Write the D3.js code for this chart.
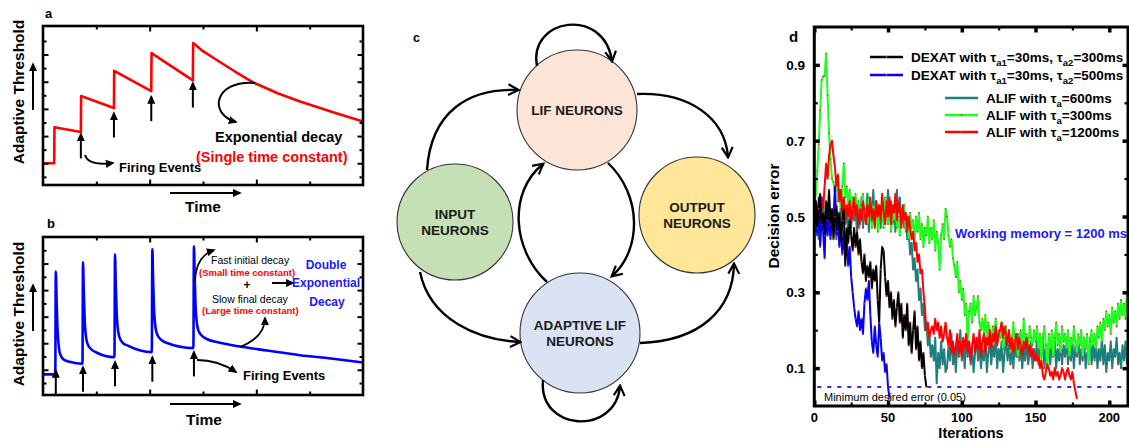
<!DOCTYPE html>
<html>
<head>
<meta charset="utf-8">
<script src="https://cdn.jsdelivr.net/npm/d3@7"></script>
<style>
  html, body { margin: 0; padding: 0; background: #fff; }
  svg { display: block; font-family: "Liberation Sans", Arial, Helvetica, sans-serif; }
</style>
</head>
<body>
<svg id="fig" width="1129" height="441"></svg>
<script>
// ---------------- data ----------------
// Panel a: single time-constant adaptive threshold, [time, threshold]
const singleExpTrace = [
  [0, 1.0], [0.21, 1.0], [0.215, 3.65], [0.71, 3.3], [0.715, 5.95], [1.33, 5.07],
  [1.335, 7.8], [2.03, 6.3], [2.035, 9.1], [2.81, 7.1], [2.815, 9.85], [3.0, 9.25],
  [3.26, 8.6], [3.6, 7.75], [3.94, 6.95], [4.4, 6.15], [4.82, 5.55], [5.44, 4.75], [6.0, 4.07]
];
const firingTimesA = [0.71, 1.33, 2.03, 2.81];
const arrowTipsA = [3.15, 4.7, 5.9, 6.9];

// Panel b: double-exponential adaptive threshold, [time, threshold]
const doubleExpTrace = [
  [0, 0.65], [0.23, 0.65],
  [0.24, 8.4], [0.255, 6.2], [0.27, 4.3], [0.29, 3.0], [0.32, 2.2], [0.38, 1.8], [0.5, 1.6], [0.74, 1.45],
  [0.75, 9.1], [0.765, 6.8], [0.78, 4.9], [0.80, 3.7], [0.83, 3.0], [0.89, 2.6], [1.0, 2.3], [1.34, 1.95],
  [1.35, 9.7], [1.365, 7.3], [1.38, 5.4], [1.40, 4.2], [1.43, 3.5], [1.49, 3.05], [1.6, 2.8], [2.04, 2.33],
  [2.05, 10.1], [2.065, 7.7], [2.08, 5.7], [2.10, 4.5], [2.13, 3.8], [2.19, 3.35], [2.3, 3.05], [2.82, 2.63],
  [2.83, 10.3], [2.845, 7.9], [2.86, 5.9], [2.88, 4.7], [2.91, 4.0], [2.97, 3.6], [3.08, 3.3],
  [3.3, 3.05], [3.69, 2.75], [4.2, 2.45], [4.82, 2.1], [5.4, 1.85], [6.0, 1.55]
];
const firingTimesB = [0.24, 0.75, 1.35, 2.05, 2.83];
const arrowTipsB = [0.95, 1.2, 1.6, 1.95, 2.35];

// Panel c: network nodes and connections
const nodeLabels = [["LIF NEURONS"], ["INPUT", "NEURONS"], ["OUTPUT", "NEURONS"], ["ADAPTIVE LIF", "NEURONS"]];
const nodeColors = ["#fce4d6", "#c5e0b4", "#ffe699", "#dae3f3"];
const links = [
  ["LIF", "LIF"], ["INPUT", "LIF"], ["INPUT", "ADAPTIVE"], ["LIF", "OUTPUT"],
  ["ADAPTIVE", "OUTPUT"], ["ADAPTIVE", "LIF"], ["LIF", "ADAPTIVE"], ["ADAPTIVE", "ADAPTIVE"]
];

// Panel d: decision error per training iteration
const dexat300 = [
  0.50,0.54,0.47,0.52,0.56,0.48,0.51,0.45,0.54,0.49,
  0.57,0.48,0.52,0.44,0.50,0.53,0.46,0.51,0.43,0.49,
  0.52,0.37,0.47,0.43,0.49,0.45,0.41,0.47,0.42,0.46,
  0.40,0.44,0.38,0.35,0.40,0.33,0.37,0.34,0.38,0.31,
  0.36,0.33,0.37,0.28,0.22,0.36,0.42,0.41,0.34,0.29,
  0.33,0.26,0.30,0.23,0.28,0.21,0.26,0.30,0.22,0.27,
  0.18,0.24,0.20,0.27,0.16,0.22,0.14,0.20,0.25,0.15,
  0.21,0.12,0.17,0.10,0.14,0.08,0.05
];
const dexat500 = [
  0.48,0.52,0.45,0.55,0.42,0.50,0.46,0.39,0.53,0.45,
  0.50,0.44,0.52,0.47,0.58,0.45,0.49,0.42,0.47,0.40,
  0.46,0.39,0.44,0.37,0.42,0.34,0.30,0.26,0.23,0.21,
  0.25,0.20,0.23,0.19,0.27,0.31,0.28,0.33,0.24,0.17,
  0.14,0.21,0.16,0.13,0.22,0.18,0.12,0.14,0.09,0.11,
  0.05,0.02
];
const alif600 = [
  0.50,0.46,0.53,0.44,0.51,0.48,0.55,0.43,0.50,0.47,
  0.54,0.45,0.52,0.49,0.56,0.44,0.51,0.47,0.53,0.46,
  0.55,0.48,0.52,0.45,0.50,0.47,0.54,0.49,0.51,0.46,
  0.53,0.48,0.55,0.47,0.52,0.50,0.56,0.46,0.53,0.49,
  0.57,0.48,0.54,0.50,0.52,0.47,0.55,0.49,0.53,0.51,
  0.57,0.50,0.54,0.48,0.52,0.46,0.57,0.51,0.55,0.48,
  0.52,0.47,0.50,0.44,0.46,0.40,0.43,0.36,0.39,0.33,
  0.36,0.28,0.31,0.24,0.27,0.20,0.22,0.16,0.19,0.13,
  0.16,0.12,0.18,0.06,0.14,0.10,0.17,0.11,0.15,0.09,
  0.10,0.16,0.12,0.19,0.11,0.14,0.09,0.17,0.13,0.20,
  0.12,0.16,0.10,0.19,0.13,0.17,0.11,0.15,0.09,0.14,
  0.18,0.12,0.16,0.10,0.15,0.12,0.18,0.09,0.14,0.17,
  0.11,0.16,0.13,0.19,0.10,0.15,0.12,0.17,0.09,0.14,
  0.18,0.12,0.16,0.11,0.15,0.10,0.17,0.13,0.19,0.12,
  0.16,0.10,0.15,0.12,0.18,0.11,0.14,0.17,0.10,0.15,
  0.12,0.18,0.11,0.16,0.13,0.19,0.10,0.15,0.12,0.17,
  0.11,0.16,0.13,0.18,0.10,0.15,0.12,0.17,0.11,0.16,
  0.13,0.18,0.11,0.15,0.12,0.17,0.10,0.16,0.13,0.18,
  0.11,0.15,0.12,0.17,0.10,0.14,0.13,0.18,0.11,0.16,
  0.12,0.17,0.10,0.15,0.12,0.18,0.11,0.16,0.09,0.14,
  0.12,0.17,0.10,0.15,0.13,0.18,0.11,0.14,0.10,0.16,
  0.12,0.17,0.11,0.13,0.10,0.14
];
const alif300 = [
  0.52,0.56,0.62,0.69,0.78,0.86,0.87,0.87,0.93,0.82,
  0.72,0.65,0.60,0.59,0.56,0.60,0.54,0.57,0.52,0.58,
  0.64,0.55,0.58,0.53,0.57,0.51,0.55,0.52,0.56,0.50,
  0.54,0.49,0.53,0.56,0.50,0.52,0.48,0.55,0.51,0.47,
  0.53,0.50,0.54,0.46,0.51,0.49,0.52,0.47,0.55,0.50,
  0.48,0.53,0.46,0.51,0.49,0.54,0.47,0.50,0.45,0.52,
  0.49,0.53,0.46,0.50,0.44,0.51,0.47,0.49,0.43,0.50,
  0.46,0.51,0.44,0.48,0.42,0.47,0.45,0.50,0.43,0.47,
  0.44,0.49,0.41,0.46,0.43,0.36,0.45,0.48,0.44,0.52,
  0.50,0.45,0.42,0.44,0.39,0.37,0.34,0.38,0.30,0.33,
  0.28,0.31,0.24,0.27,0.17,0.25,0.27,0.22,0.29,0.24,
  0.26,0.29,0.22,0.20,0.23,0.19,0.24,0.18,0.22,0.20,
  0.17,0.21,0.19,0.23,0.16,0.20,0.18,0.22,0.15,0.19,
  0.21,0.17,0.20,0.14,0.18,0.22,0.16,0.19,0.13,0.18,
  0.20,0.15,0.23,0.17,0.19,0.14,0.21,0.18,0.16,0.20,
  0.17,0.21,0.15,0.19,0.12,0.18,0.21,0.16,0.10,0.19,
  0.15,0.20,0.13,0.18,0.22,0.16,0.19,0.14,0.21,0.17,
  0.19,0.15,0.20,0.13,0.18,0.16,0.21,0.17,0.14,0.19,
  0.16,0.20,0.13,0.18,0.15,0.19,0.11,0.17,0.20,0.16,
  0.19,0.15,0.21,0.18,0.22,0.17,0.23,0.20,0.25,0.21,
  0.24,0.19,0.26,0.22,0.25,0.21,0.27,0.23,0.28,0.24,
  0.27,0.23,0.30,0.26,0.20,0.28
];
const alif1200 = [
  0.50,0.54,0.47,0.53,0.49,0.55,0.52,0.58,0.64,0.60,
  0.66,0.69,0.70,0.66,0.63,0.58,0.61,0.54,0.57,0.51,
  0.55,0.49,0.53,0.50,0.54,0.48,0.52,0.55,0.50,0.53,
  0.47,0.52,0.49,0.54,0.51,0.48,0.53,0.50,0.55,0.49,
  0.52,0.47,0.54,0.50,0.53,0.49,0.56,0.51,0.48,0.54,
  0.50,0.55,0.48,0.53,0.51,0.56,0.49,0.54,0.52,0.47,
  0.53,0.49,0.51,0.46,0.50,0.47,0.44,0.46,0.41,0.43,
  0.38,0.40,0.35,0.36,0.30,0.26,0.20,0.22,0.18,0.20,
  0.21,0.19,0.23,0.20,0.22,0.18,0.21,0.17,0.19,0.22,
  0.18,0.16,0.20,0.14,0.17,0.13,0.16,0.19,0.14,0.17,
  0.13,0.18,0.15,0.19,0.14,0.17,0.12,0.16,0.19,0.14,
  0.18,0.15,0.20,0.13,0.17,0.19,0.14,0.18,0.16,0.20,
  0.15,0.19,0.17,0.21,0.16,0.19,0.20,0.22,0.18,0.21,
  0.19,0.16,0.20,0.15,0.18,0.14,0.17,0.19,0.15,0.18,
  0.16,0.13,0.17,0.15,0.18,0.14,0.16,0.13,0.15,0.12,
  0.14,0.12,0.13,0.10,0.12,0.08,0.07,0.09,0.11,0.10,
  0.08,0.09,0.07,0.10,0.08,0.09,0.07,0.08,0.10,0.09,
  0.07,0.09,0.10,0.08,0.07,0.09,0.06,0.04,0.02
];
const minDesiredError = 0.05;
const dTicksX = [0, 50, 100, 150, 200];
const dTicksY = [0.1, 0.3, 0.5, 0.7, 0.9];

// ---------------- helpers ----------------
const svg = d3.select("#fig");
const defs = svg.append("defs");

defs.append("marker").attr("id", "solidHead")
  .attr("viewBox", "0 0 10 10").attr("refX", 8).attr("refY", 5)
  .attr("markerUnits", "userSpaceOnUse").attr("markerWidth", 9).attr("markerHeight", 9)
  .attr("orient", "auto")
  .append("path").attr("d", "M0,0.5 L10,5 L0,9.5 Z").attr("fill", "#000");

defs.append("marker").attr("id", "openHead")
  .attr("viewBox", "0 0 12 12").attr("refX", 10).attr("refY", 6)
  .attr("markerUnits", "userSpaceOnUse").attr("markerWidth", 13).attr("markerHeight", 13)
  .attr("orient", "auto")
  .append("path").attr("d", "M1,1 L10.5,6 L1,11").attr("fill", "none")
  .attr("stroke", "#000").attr("stroke-width", 2).attr("stroke-linejoin", "miter");

function sideTicks(g, x, y, xVals, yVals, len, width) {
  const [x0, x1] = x.range();
  const [y0, y1] = y.range();
  const sides = [
    [d3.axisBottom(x).tickValues(xVals), `translate(0,${y0})`],
    [d3.axisTop(x).tickValues(xVals), `translate(0,${y1})`],
    [d3.axisLeft(y).tickValues(yVals), `translate(${x0},0)`],
    [d3.axisRight(y).tickValues(yVals), `translate(${x1},0)`]
  ];
  sides.forEach(([ax, tr]) => {
    const a = g.append("g").attr("transform", tr)
      .call(ax.tickSize(-len).tickFormat(""));
    a.select(".domain").remove();
    a.selectAll(".tick line").attr("stroke", "#000").attr("stroke-width", width);
  });
}

function frame(g, x, y, w) {
  const [x0, x1] = x.range();
  const [y0, y1] = y.range();
  g.append("rect").attr("x", x0).attr("y", y1).attr("width", x1 - x0).attr("height", y0 - y1)
    .attr("fill", "none").attr("stroke", "#000").attr("stroke-width", w);
}

function arrowLine(g, x1, y1, x2, y2, w) {
  g.append("line").attr("x1", x1).attr("y1", y1).attr("x2", x2).attr("y2", y2)
    .attr("stroke", "#000").attr("stroke-width", w || 2).attr("marker-end", "url(#solidHead)");
}
function arrowPath(g, d, w) {
  g.append("path").attr("d", d).attr("fill", "none").attr("stroke", "#000")
    .attr("stroke-width", w || 2).attr("marker-end", "url(#solidHead)");
}
function label(g, x, y, txt, opts) {
  const o = Object.assign({ size: 12, weight: "bold", fill: "#000", anchor: "start" }, opts || {});
  return g.append("text").attr("x", x).attr("y", y).attr("font-size", o.size)
    .attr("font-weight", o.weight).attr("fill", o.fill).attr("text-anchor", o.anchor).text(txt);
}

// ---------------- panel a ----------------
const gA = svg.append("g");
const xA = d3.scaleLinear().domain([0, 6]).range([43, 363]);
const yA = d3.scaleLinear().domain([-0.6, 11.1]).range([185, 26]);

gA.append("path").datum(singleExpTrace)
  .attr("d", d3.line().x(d => xA(d[0])).y(d => yA(d[1])))
  .attr("fill", "none").attr("stroke", "#ff0000").attr("stroke-width", 2.6)
  .attr("stroke-linejoin", "round");

sideTicks(gA, xA, yA, [1, 3, 5], [0, 2, 4, 6, 8, 10], 3.5, 2);
sideTicks(gA, xA, yA, [2, 4], [1, 3, 5, 7, 9], 5.5, 2);
frame(gA, xA, yA, 2.6);

firingTimesA.forEach((t, i) => {
  arrowLine(gA, xA(t), yA(arrowTipsA[i] - 1.8), xA(t), yA(arrowTipsA[i]), 2);
});
arrowPath(gA, "M85,155 Q88,166 113,163", 2);
label(gA, 119, 172, "Firing Events", { size: 13 });
arrowPath(gA, "M255,83 C214,80 208,114 236,122", 2);
label(gA, 215, 142, "Exponential decay", { size: 14.5 });
label(gA, 196, 162, "(Single time constant)", { size: 14.5, fill: "#ff0000" });

label(gA, 45, 18, "a", { size: 13 });
arrowLine(gA, 170, 193, 240, 193, 2);
label(gA, 203, 212, "Time", { size: 15.5, anchor: "middle" });
gA.append("text").attr("transform", "translate(24,92) rotate(-90)")
  .attr("text-anchor", "middle").attr("font-size", 15.5).attr("font-weight", "bold")
  .text("Adaptive Threshold");
arrowLine(gA, 33, 110, 33, 64, 2);

// ---------------- panel b ----------------
const gB = svg.append("g");
const xB = d3.scaleLinear().domain([0, 6]).range([43, 363]);
const yB = d3.scaleLinear().domain([-0.9, 11.0]).range([395, 237]);

gB.append("path").datum(doubleExpTrace)
  .attr("d", d3.line().x(d => xB(d[0])).y(d => yB(d[1])).curve(d3.curveMonotoneX))
  .attr("fill", "none").attr("stroke", "#0000ff").attr("stroke-width", 2.6)
  .attr("stroke-linejoin", "round");

sideTicks(gB, xB, yB, [1, 3, 5], [0, 2, 4, 6, 8, 10], 3.5, 2);
sideTicks(gB, xB, yB, [2, 4], [1, 3, 5, 7, 9], 5.5, 2);
frame(gB, xB, yB, 2.6);

firingTimesB.forEach((t, i) => {
  arrowLine(gB, xB(t), yB(arrowTipsB[i] - 1.85), xB(t), yB(arrowTipsB[i]), 2);
});
arrowPath(gB, "M197,360 Q218,360 236,372", 2);
label(gB, 243, 380, "Firing Events", { size: 13 });

arrowPath(gB, "M195,281 Q196,256 214,250", 1.8);
label(gB, 211, 264, "Fast initial decay", { size: 10.5, weight: "normal" });
label(gB, 199, 276, "(Small time constant)", { size: 9.5, fill: "#ff0000" });
label(gB, 247, 289, "+", { size: 12, anchor: "middle" });
arrowLine(gB, 272, 283, 293, 283, 2);
label(gB, 212, 303, "Slow final decay", { size: 10.5, weight: "normal" });
label(gB, 202, 314, "(Large time constant)", { size: 9.5, fill: "#ff0000" });
arrowPath(gB, "M240,347 Q265,337 265,318", 1.8);
label(gB, 326, 269, "Double", { size: 12, fill: "#1a1aff", anchor: "middle" });
label(gB, 326, 287, "Exponential", { size: 12, fill: "#1a1aff", anchor: "middle" });
label(gB, 327, 306, "Decay", { size: 12, fill: "#1a1aff", anchor: "middle" });

label(gB, 47, 228, "b", { size: 13 });
arrowLine(gB, 170, 404, 240, 404, 2);
label(gB, 204, 425, "Time", { size: 15.5, anchor: "middle" });
gB.append("text").attr("transform", "translate(24,314) rotate(-90)")
  .attr("text-anchor", "middle").attr("font-size", 15.5).attr("font-weight", "bold")
  .text("Adaptive Threshold");
arrowLine(gB, 33, 331, 33, 285, 2);

// ---------------- panel c ----------------
const gC = svg.append("g");
const nodeKeys = ["LIF", "INPUT", "OUTPUT", "ADAPTIVE"];
const layout = {
  LIF: { x: 577, y: 110, r: 60 },
  INPUT: { x: 455, y: 222, r: 58 },
  OUTPUT: { x: 697, y: 215, r: 58 },
  ADAPTIVE: { x: 580, y: 333, r: 60 }
};
const linkPaths = {
  "LIF>LIF": "M537,66 C528,18 604,6 612,61",
  "INPUT>LIF": "M427,170 C431,112 468,88 518,90",
  "INPUT>ADAPTIVE": "M420,272 C430,320 478,340 520,342",
  "LIF>OUTPUT": "M637,94 C690,92 725,118 728,157",
  "ADAPTIVE>OUTPUT": "M640,343 C700,341 733,310 734,264",
  "ADAPTIVE>LIF": "M547,282 C512,250 508,192 543,164",
  "LIF>ADAPTIVE": "M608,163 C642,195 642,250 612,276",
  "ADAPTIVE>ADAPTIVE": "M543,380 C538,432 616,436 620,386"
};

nodeKeys.forEach((k, i) => {
  const n = layout[k];
  gC.append("circle").attr("cx", n.x).attr("cy", n.y).attr("r", n.r)
    .attr("fill", nodeColors[i]).attr("stroke", "#333").attr("stroke-width", 1.1);
  const lines = nodeLabels[i];
  const lh = 16.5;
  lines.forEach((ln, j) => {
    gC.append("text").attr("x", n.x).attr("y", n.y + (j - (lines.length - 1) / 2) * lh + 5)
      .attr("text-anchor", "middle").attr("font-size", 13.5).attr("font-weight", "bold")
      .attr("fill", "#1a1a1a").text(ln);
  });
});
links.forEach(([s, t]) => {
  gC.append("path").attr("d", linkPaths[s + ">" + t]).attr("fill", "none")
    .attr("stroke", "#000").attr("stroke-width", 2.4).attr("marker-end", "url(#openHead)");
});
label(gC, 413, 42, "c", { size: 12.5 });

// ---------------- panel d ----------------
const gD = svg.append("g");
const xD = d3.scaleLinear().domain([0, 212.7]).range([814.3, 1128]);
const yD = d3.scaleLinear().domain([0, 1]).range([406, 27]);

defs.append("clipPath").attr("id", "plotD").append("rect")
  .attr("x", 814.3).attr("y", 27).attr("width", 1128 - 814.3).attr("height", 406 - 27);

const seriesD = [alif600, alif300, alif1200, dexat500, dexat300];
const colorsD = ["#178282", "#1fff1f", "#ff0000", "#0000ff", "#000000"];
const lineD = d3.line().x((d, i) => xD(i)).y(d => yD(d));
const plot = gD.append("g").attr("clip-path", "url(#plotD)");

plot.append("line").attr("x1", xD(2)).attr("x2", xD(212.7))
  .attr("y1", yD(minDesiredError)).attr("y2", yD(minDesiredError))
  .attr("stroke", "#2b2bff").attr("stroke-width", 2).attr("stroke-dasharray", "4,6");

seriesD.forEach((s, k) => {
  plot.append("path").datum(s).attr("d", lineD).attr("fill", "none")
    .attr("stroke", colorsD[k]).attr("stroke-width", 2).attr("stroke-linejoin", "round");
  plot.append("g").selectAll("circle").data(s).join("circle")
    .attr("cx", (d, i) => xD(i)).attr("cy", d => yD(d)).attr("r", 0.8).attr("fill", "#e0301e");
});

sideTicks(gD, xD, yD, [25, 75, 125, 175], [0.2, 0.4, 0.6, 0.8], 3.5, 2.2);
sideTicks(gD, xD, yD, dTicksX, dTicksY, 5.5, 3.5);
frame(gD, xD, yD, 3);

dTicksX.forEach(v => label(gD, xD(v), 422, String(v), { size: 13, anchor: "middle" }));
dTicksY.forEach(v => label(gD, 805, yD(v) + 5, d3.format(".1f")(v), { size: 13.5, anchor: "end" }));
label(gD, 971, 438, "Iterations", { size: 14.5, anchor: "middle" });
gD.append("text").attr("transform", "translate(779,216) rotate(-90)")
  .attr("text-anchor", "middle").attr("font-size", 15.5).attr("font-weight", "bold")
  .text("Decision error");
label(gD, 789, 42, "d", { size: 15 });
label(gD, 824, 401, "Minimum desired error (0.05)", { size: 11, weight: "normal" });
label(gD, 955, 238, "Working memory = 1200 ms", { size: 13, fill: "#1a1aff" });

// legend
const legendItems = [
  { color: "#000000", x: 870, y: 57, parts: [["DEXAT with τ"], ["a1", 1], ["=30ms, τ"], ["a2", 1], ["=300ms"]] },
  { color: "#0000ff", x: 870, y: 75, parts: [["DEXAT with τ"], ["a1", 1], ["=30ms, τ"], ["a2", 1], ["=500ms"]] },
  { color: "#178282", x: 945, y: 98, parts: [["ALIF with τ"], ["a", 1], ["=600ms"]] },
  { color: "#1fff1f", x: 945, y: 115, parts: [["ALIF with τ"], ["a", 1], ["=300ms"]] },
  { color: "#ff0000", x: 945, y: 132, parts: [["ALIF with τ"], ["a", 1], ["=1200ms"]] }
];
legendItems.forEach(it => {
  gD.append("line").attr("x1", it.x).attr("x2", it.x + 33).attr("y1", it.y).attr("y2", it.y)
    .attr("stroke", it.color).attr("stroke-width", 2.6);
  gD.append("circle").attr("cx", it.x + 16.5).attr("cy", it.y).attr("r", 0.9).attr("fill", "#e0301e");
  const t = gD.append("text").attr("x", it.x + 41).attr("y", it.y + 5)
    .attr("font-size", 13.5).attr("font-weight", "bold");
  let sub = false;
  it.parts.forEach(([s, isSub]) => {
    const ts = t.append("tspan").text(s);
    if (isSub && !sub) { ts.attr("dy", 3.5).attr("font-size", 9.5); sub = true; }
    else if (!isSub && sub) { ts.attr("dy", -3.5); sub = false; }
  });
});
</script>
</body>
</html>
